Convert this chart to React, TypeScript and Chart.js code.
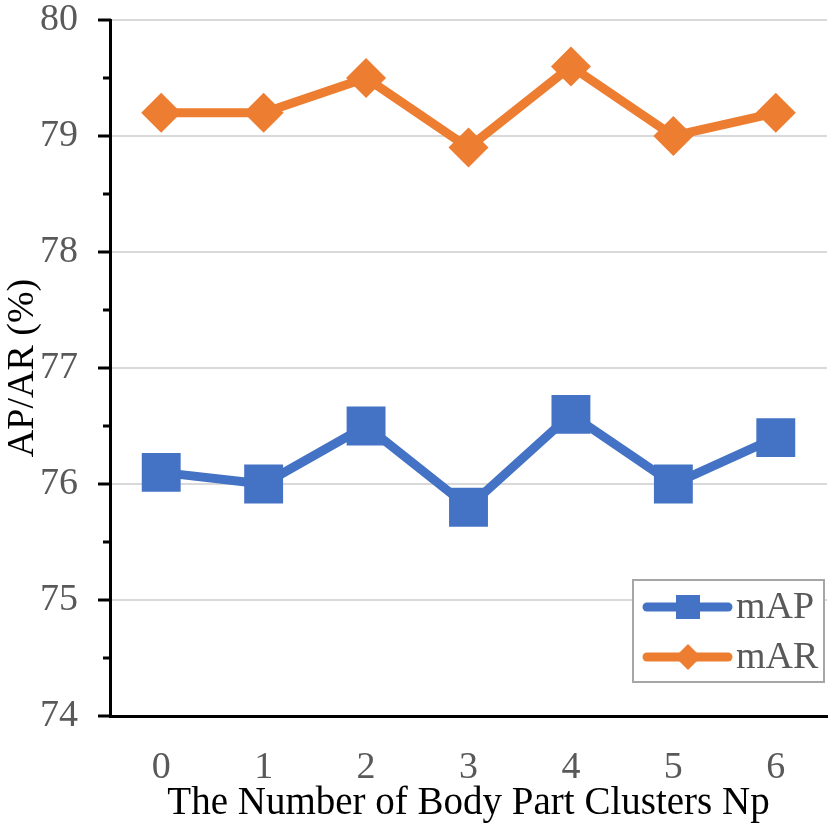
import React, { useEffect, useRef } from "react";
import { Chart, registerables } from "chart.js";

Chart.register(...registerables);

const categories = ["0", "1", "2", "3", "4", "5", "6"];
const mAP = [76.1, 76.0, 76.5, 75.8, 76.6, 76.0, 76.4];
const mAR = [79.2, 79.2, 79.5, 78.9, 79.6, 79.0, 79.2];
const yMin = 74;
const yMax = 80;
const xTitle = "The Number of Body Part Clusters Np";
const yTitle = "AP/AR (%)";

const BLUE = "#4472C4";
const ORANGE = "#ED7D31";
const FONT = "'Liberation Serif', 'Times New Roman', serif";

const yTickMarks = {
  id: "yTickMarks",
  afterDraw(chart: any) {
    const y = chart.scales.y;
    const ctx = chart.ctx;
    const x0 = chart.chartArea.left + 1;
    ctx.save();
    ctx.strokeStyle = "#000";
    ctx.lineWidth = 3;
    y.ticks.forEach((t: any) => {
      const py = y.getPixelForValue(t.value);
      const major = Math.abs(t.value - Math.round(t.value)) < 1e-6;
      const len = major ? 13 : 8;
      ctx.beginPath();
      ctx.moveTo(x0 - len, py);
      ctx.lineTo(x0, py);
      ctx.stroke();
    });
    ctx.restore();
  },
};

const boxLegend = {
  id: "boxLegend",
  afterDraw(chart: any) {
    const ctx = chart.ctx;
    const bx = 633, by = 580, bw = 191, bh = 102;
    ctx.save();
    ctx.fillStyle = "#fff";
    ctx.fillRect(bx, by, bw, bh);
    ctx.strokeStyle = "#A6A6A6";
    ctx.lineWidth = 2;
    ctx.strokeRect(bx, by, bw, bh);
    const rows = [
      { ds: chart.data.datasets[0], y: 607 },
      { ds: chart.data.datasets[1], y: 657 },
    ];
    rows.forEach((r, i) => {
      const color = r.ds.borderColor;
      ctx.strokeStyle = color;
      ctx.fillStyle = color;
      ctx.lineWidth = 9;
      ctx.lineCap = "round";
      ctx.beginPath();
      ctx.moveTo(647, r.y);
      ctx.lineTo(728, r.y);
      ctx.stroke();
      const cx = 688;
      if (i === 0) {
        ctx.fillRect(cx - 12, r.y - 12, 24, 24);
      } else {
        ctx.beginPath();
        ctx.moveTo(cx - 13, r.y);
        ctx.lineTo(cx, r.y - 13);
        ctx.lineTo(cx + 13, r.y);
        ctx.lineTo(cx, r.y + 13);
        ctx.closePath();
        ctx.fill();
      }
      ctx.fillStyle = "#595959";
      ctx.font = `38px ${FONT}`;
      ctx.textBaseline = "middle";
      ctx.textAlign = "left";
      ctx.fillText(r.ds.label, 736, r.y + 1);
    });
    ctx.restore();
  },
};

export default function App() {
  const ref = useRef<HTMLCanvasElement>(null);
  useEffect(() => {
    if (!ref.current) return;
    const chart = new Chart(ref.current, {
      type: "line",
      data: {
        labels: categories,
        datasets: [
          {
            label: "mAP",
            data: mAP,
            borderColor: BLUE,
            backgroundColor: BLUE,
            borderWidth: 9,
            pointStyle: "rect",
            pointRadius: 27.5,
            pointBorderWidth: 0,
            pointBackgroundColor: BLUE,
          },
          {
            label: "mAR",
            data: mAR,
            borderColor: ORANGE,
            backgroundColor: ORANGE,
            borderWidth: 9,
            pointStyle: "rectRot",
            pointRadius: 20,
            pointBorderWidth: 0,
            pointBackgroundColor: ORANGE,
          },
        ],
      },
      options: {
        animation: false,
        responsive: false,
        maintainAspectRatio: false,
        layout: { autoPadding: false, padding: { top: 20, right: 3, left: 0, bottom: 0 } },
        plugins: { legend: { display: false }, tooltip: { enabled: false } },
        scales: {
          x: {
            offset: true,
            grid: { display: false, drawTicks: false },
            border: { display: true, color: "#000", width: 3 },
            ticks: {
              padding: 29,
              color: "#595959",
              font: { family: FONT, size: 38 },
            },
            title: {
              display: true,
              text: xTitle,
              color: "#000",
              font: { family: FONT, size: 39 },
              padding: { top: 0, bottom: 3 },
            },
            afterFit: (s: any) => {
              s.height = 114;
              s.paddingLeft = 0;
              s.paddingRight = 0;
            },
          },
          y: {
            min: yMin,
            max: yMax,
            grid: {
              drawTicks: false,
              lineWidth: 2,
              color: (c: any) =>
                c.tick && Math.abs(c.tick.value - Math.round(c.tick.value)) < 1e-6 && c.tick.value !== yMin
                  ? "#D9D9D9"
                  : "rgba(0,0,0,0)",
            },
            border: { display: true, color: "#000", width: 3 },
            ticks: {
              stepSize: 0.5,
              padding: 32,
              color: "#595959",
              font: { family: FONT, size: 38 },
              callback: (v: any) =>
                Math.abs(v - Math.round(v)) < 1e-6 ? String(Math.round(v)) : "",
            },
            title: {
              display: true,
              text: yTitle,
              color: "#000",
              font: { family: FONT, size: 38 },
              padding: { top: 0, bottom: 0 },
            },
            afterFit: (s: any) => {
              s.width = 110;
              s.paddingTop = 0;
              s.paddingBottom = 0;
            },
          },
        },
      },
      plugins: [yTickMarks, boxLegend],
    });
    return () => chart.destroy();
  }, []);
  return (
    <div style={{ position: "fixed", left: 0, top: 0, width: 830, height: 830, background: "#fff" }}>
      <canvas ref={ref} width={830} height={830} style={{ width: 830, height: 830 }} />
    </div>
  );
}
